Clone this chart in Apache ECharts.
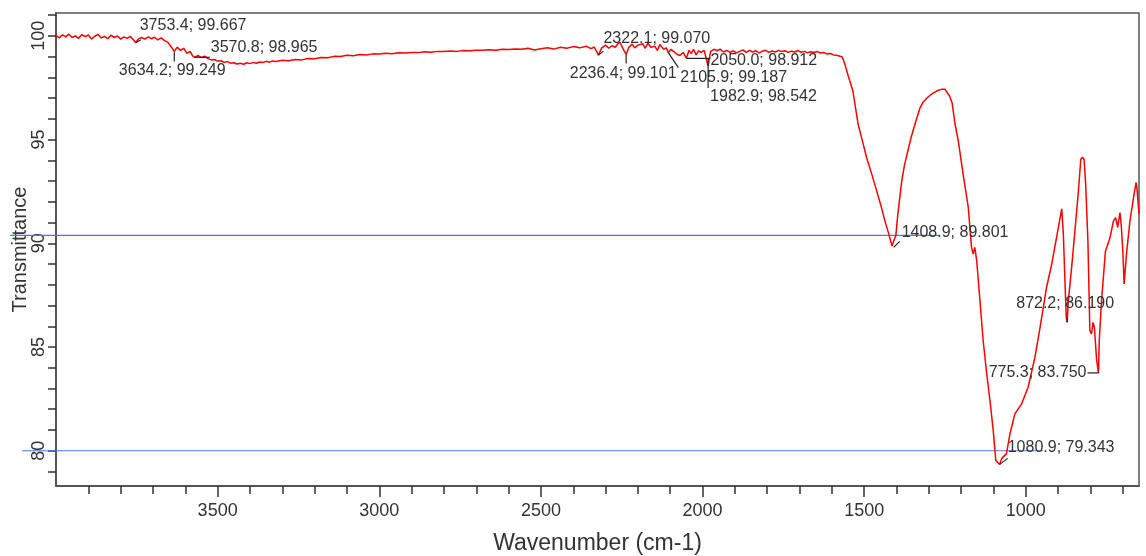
<!DOCTYPE html>
<html>
<head>
<meta charset="utf-8">
<script src="https://cdn.jsdelivr.net/npm/echarts@6/dist/echarts.min.js"></script>
<style>
html,body{margin:0;padding:0;background:#fff;}
#chart{width:1146px;height:556px;}
</style>
</head>
<body>
<div id="chart"></div>
<script>
// ---- data ----
var wavenumber = [
4000,3990,3980,3970,3960,3950,3940,3930,3920,3910,3900,3890,3880,3870,3860,3850,3840,3830,3820,3810,3800,3790,3780,3770,3760,
3753.4,3745,3735,3725,3715,3705,3695,3685,3675,3665,3655,3645,3634.2,3625,3615,3605,3595,3585,3578,3570.8,
3560,3550,3540,3530,3520,3510,3500,3490,3480,3470,3460,3450,3440,3430,3420,3410,3400,3390,3380,3370,3360,3350,3340,3330,3320,
3300,3280,3260,3240,3220,3200,3180,3160,3140,3120,3100,3080,3060,3040,3020,3000,2980,2960,2940,2920,2900,2880,2860,2840,2820,
2800,2780,2760,2740,2720,2700,2680,2660,2640,2620,2600,2580,2560,2540,2520,2500,2480,2460,2440,2420,2400,2380,2360,2345,2335,
2322.1,2312,2300,2290,2280,2270,2262,2255,2245,2236.4,2228,2218,2210,2200,2194,2185,2178,2169,2160,2148,2140,2132,2120,2112,
2105.9,2098,2090,2085,2078,2070,2060,2050.0,2042,2035,2028,2020,2012,2005,1995,1982.9,
1975,1965,1955,1946,1935,1925,1915,1905,1895,1885,1875,1865,1855,1845,1835,1825,1815,1805,1795,1785,1775,1765,1755,1745,1735,
1725,1715,1705,1695,1685,1675,1665,1655,1645,1635,1625,1615,1605,1595,1585,1575,1568,
1560,1550,1535,1519,1505,1492,1475,1461,1448,1436,1425,1414,1408.9,1402,1396,1390,1384,1375,1365,1355,1343,1335,1328,1318,1306,
1295,1287,1275,1259,1250,1244,1236,1228,1219,1209,1194,1178,1168,1163,1158,1152,1142,1132,1121,1111,1101,1093,1080.9,
1075,1060,1049,1034,1013,993,972,956,936,920,905,889,884,878,875,872.2,869,858,848,838,830,825,820,815,808,802,797,792,788,781,775.3,
773,766,761,754,740,729,722,716,709,705,700,696,692,688,678,667,659,656,650
];
var transmittance = [
100.02,99.90,100.05,99.95,100.08,99.92,100.00,99.88,100.06,99.96,100.04,99.85,99.98,100.07,99.90,99.97,99.86,100.03,99.92,99.99,99.84,99.95,99.88,99.97,99.80,
99.667,99.85,99.92,99.84,99.95,99.86,99.93,99.80,99.90,99.78,99.70,99.50,99.249,99.45,99.30,99.40,99.15,99.25,99.05,98.965,
99.05,98.95,99.02,98.90,98.84,98.86,98.78,98.80,98.72,98.76,98.68,98.70,98.64,98.68,98.63,98.70,98.66,98.72,98.68,98.74,98.71,98.77,98.73,98.79,98.76,
98.82,98.80,98.86,98.84,98.91,98.89,98.96,98.94,99.01,99.00,99.06,99.04,99.10,99.08,99.13,99.12,99.16,99.14,99.18,99.17,99.20,99.19,99.23,99.21,99.25,
99.24,99.27,99.25,99.29,99.28,99.31,99.30,99.33,99.31,99.35,99.34,99.37,99.35,99.40,99.32,99.38,99.42,99.36,99.45,99.40,99.48,99.42,99.50,99.38,99.46,
99.070,99.42,99.55,99.40,99.52,99.45,99.62,99.68,99.35,99.101,99.45,99.60,99.42,99.55,99.50,99.62,99.40,99.65,99.45,99.50,99.30,99.58,99.35,99.42,
99.187,99.35,99.25,99.32,99.10,99.05,99.20,98.912,99.30,99.15,99.35,99.08,99.28,99.20,99.30,98.542,
99.25,99.35,99.28,99.36,99.22,99.30,99.20,99.28,99.18,99.25,99.32,99.20,99.30,99.22,99.28,99.18,99.26,99.30,99.20,99.27,99.22,99.30,99.24,99.28,99.20,
99.26,99.22,99.29,99.21,99.25,99.18,99.23,99.20,99.24,99.17,99.20,99.12,99.15,99.08,99.06,99.02,98.98,
98.64,98.10,97.34,95.75,94.90,94.10,93.25,92.50,91.80,91.08,90.50,89.87,89.801,90.40,91.40,92.20,93.00,93.80,94.45,95.10,95.75,96.15,96.50,96.80,97.00,
97.15,97.24,97.35,97.43,97.42,97.34,97.10,96.76,95.75,94.93,93.33,91.72,89.80,89.48,89.80,89.16,87.23,85.30,83.70,82.42,80.98,79.53,79.343,
79.62,79.86,80.82,81.78,82.26,83.06,84.50,85.95,87.87,89.00,90.28,91.66,90.44,87.70,86.43,86.190,87.15,88.90,90.65,92.40,94.05,94.15,94.05,92.85,90.10,85.79,85.63,86.19,85.95,84.35,83.750,
85.30,87.20,88.20,89.60,90.25,91.08,91.24,90.76,91.48,90.90,89.60,88.04,88.84,89.60,91.08,92.20,92.93,92.60,91.42
];

// labelled peaks
var peakWavenumbers = [3753.4, 3634.2, 3570.8, 2322.1, 2236.4, 2105.9, 2050.0, 1982.9, 1408.9, 1080.9, 872.2, 775.3];
var peakValues      = [99.667, 99.249, 98.965, 99.070, 99.101, 99.187, 98.912, 98.542, 89.801, 79.343, 86.190, 83.750];

// horizontal cursor lines: level, start and end wavenumber
var cursorLevels = [90.38, 80.0];
var cursorStarts = [4142, 4105];
var cursorEnds   = [1266, 947];

// axis ticks
var xTickLabels = [3500, 3000, 2500, 2000, 1500, 1000];
var xMinorTicks = [3900,3800,3700,3600,3400,3300,3200,3100,2900,2800,2700,2600,2400,2300,2200,2100,1900,1800,1700,1600,1400,1300,1200,1100,900,800,700];
var yTickLabels = [80, 85, 90, 95, 100];
var yMinorTicks = [79,80,81,82,83,84,85,86,87,88,89,90,91,92,93,94,95,96,97,98,99,100,101];

// ---- label layout (style only): leader line [x1,y1,x2,y2] and text offset relative to the peak ----
var peakLayout = [
  {line:[0,0,5,-3],  dx:4,   dy:-17, align:'left'},
  {line:[0,0,0,10],  dx:-2,  dy:19,  align:'center'},
  {line:[0,0,15,0],  dx:16,  dy:-10, align:'left'},
  {line:[0,0,5,-4],  dx:5,   dy:-17, align:'left'},
  {line:[0,0,0,9],   dx:-3,  dy:19,  align:'center'},
  {line:[0,0,10,15], dx:12,  dy:25,  align:'left'},
  {line:[0,0,24,0],  dx:24,  dy:2,   align:'left'},
  {line:[0,-7,0,22], dx:2,   dy:31,  align:'left'},
  {line:[0,0,6,-6],  dx:8,   dy:-15, align:'left'},
  {line:[0,0,8,-6],  dx:8,   dy:-17, align:'left'},
  {line:[0,0,0,-5],  dx:-2,  dy:-19, align:'center'},
  {line:[0,0,-11,0], dx:-12, dy:0,   align:'right'}
];

var FONT = '"Liberation Sans", Arial, sans-serif';
var spectrum = wavenumber.map(function(w, i){ return [w, transmittance[i]]; });
var peaks = peakWavenumbers.map(function(w, i){ return [w, peakValues[i]]; });
var cursors = cursorLevels.map(function(v, i){ return [cursorStarts[i], cursorEnds[i], v]; });

var chart = echarts.init(document.getElementById('chart'), null, {renderer:'canvas'});
chart.setOption({
  animation: false,
  backgroundColor: '#ffffff',
  grid: {left:56, right:7, top:13, bottom:70, show:true, borderColor:'#555', borderWidth:1.5, backgroundColor:'transparent', containLabel:false, outerBoundsMode:'none'},
  xAxis: [{
    type:'value', inverse:true, min:650, max:4000, position:'bottom',
    name:'Wavenumber (cm-1)', nameLocation:'middle', nameGap:46, nameMoveOverlap:false,
    nameTextStyle:{fontSize:23, color:'#333', fontFamily:FONT},
    axisLine:{show:true, onZero:false, lineStyle:{color:'#555', width:2}},
    axisTick:{show:true, customValues:xTickLabels, length:11, lineStyle:{color:'#333', width:1.5}},
    axisLabel:{customValues:xTickLabels, fontSize:18, color:'#333', fontFamily:FONT, margin:16,
      formatter:function(v){ return String(v); }},
    splitLine:{show:false}
  },{
    type:'value', inverse:true, min:650, max:4000, position:'bottom', gridIndex:0,
    axisLine:{show:false},
    axisTick:{show:true, customValues:xMinorTicks, length:8, lineStyle:{color:'#333', width:1.5}},
    axisLabel:{show:false},
    splitLine:{show:false}
  }],
  yAxis: {
    type:'value', min:78.3, max:101.1,
    name:'Transmittance', nameLocation:'middle', nameRotate:90, nameGap:26, nameMoveOverlap:false,
    nameTextStyle:{fontSize:20, color:'#333', fontFamily:FONT},
    axisLine:{show:true, onZero:false, lineStyle:{color:'#555', width:2}},
    axisTick:{show:true, customValues:yMinorTicks, length:8, lineStyle:{color:'#333', width:1.5}},
    axisLabel:{customValues:yTickLabels, rotate:90, fontSize:18, color:'#333', fontFamily:FONT, margin:8,
      formatter:function(v){ return String(v); }},
    splitLine:{show:false}
  },
  series: [
    {
      type:'custom', name:'cursors', coordinateSystem:'cartesian2d', clip:false, silent:true, z:1,
      encode:{x:[0,1], y:2},
      data: cursors,
      renderItem: function(params, api){
        var a = api.coord([api.value(0), api.value(2)]);
        var b = api.coord([api.value(1), api.value(2)]);
        return {type:'line', shape:{x1:a[0], y1:a[1], x2:b[0], y2:b[1]}, style:{stroke:'#4a7bd8', lineWidth:1.2}};
      }
    },
    {
      type:'line', name:'spectrum', data:spectrum, showSymbol:false, symbol:'none', z:3,
      lineStyle:{color:'#ff0000', width:1.5}, itemStyle:{color:'#ff0000'}
    },
    {
      type:'custom', name:'peaks', coordinateSystem:'cartesian2d', clip:false, silent:true, z:4,
      encode:{x:0, y:1},
      data: peaks,
      renderItem: function(params, api){
        var w = api.value(0), t = api.value(1);
        var p = api.coord([w, t]);
        var L = peakLayout[params.dataIndex];
        var txt = w.toFixed(1) + '; ' + t.toFixed(3);
        return {type:'group', children:[
          {type:'line', shape:{x1:p[0]+L.line[0], y1:p[1]+L.line[1], x2:p[0]+L.line[2], y2:p[1]+L.line[3]}, style:{stroke:'#222', lineWidth:1.2}},
          {type:'text', x:p[0]+L.dx, y:p[1]+L.dy, style:{text:txt, fill:'#333', font:'16px ' + FONT, align:L.align, verticalAlign:'middle', textAlign:L.align, textVerticalAlign:'middle'}}
        ]};
      }
    }
  ]
});
</script>
</body>
</html>
